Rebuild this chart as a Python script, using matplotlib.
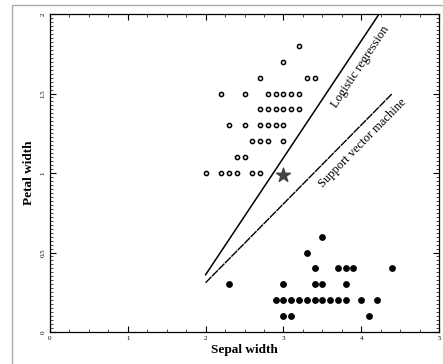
import matplotlib.pyplot as plt
import matplotlib.patches as patches
from matplotlib.ticker import MultipleLocator

# versicolor (open circles): sepal width, petal width
open_sw = [3.2, 3.0, 2.7, 3.3, 3.4,
           2.2, 2.5, 2.8, 2.9, 3.0, 3.1, 3.2,
           2.7, 2.8, 2.9, 3.0, 3.1, 3.2,
           2.3, 2.5, 2.7, 2.8, 2.9, 3.0,
           2.6, 2.7, 2.8, 3.0,
           2.4, 2.5,
           2.0, 2.2, 2.3, 2.4, 2.6, 2.7]
open_pw = [1.8, 1.7, 1.6, 1.6, 1.6,
           1.5, 1.5, 1.5, 1.5, 1.5, 1.5, 1.5,
           1.4, 1.4, 1.4, 1.4, 1.4, 1.4,
           1.3, 1.3, 1.3, 1.3, 1.3, 1.3,
           1.2, 1.2, 1.2, 1.2,
           1.1, 1.1,
           1.0, 1.0, 1.0, 1.0, 1.0, 1.0]

# setosa (filled dots)
fill_sw = [3.5, 3.3,
           3.4, 3.7, 3.8, 3.9, 4.4,
           2.3, 3.0, 3.4, 3.5, 3.8,
           2.9, 3.0, 3.1, 3.2, 3.3, 3.4, 3.5, 3.6, 3.7, 3.8, 4.0, 4.2,
           3.0, 3.1, 4.1]
fill_pw = [0.6, 0.5,
           0.4, 0.4, 0.4, 0.4, 0.4,
           0.3, 0.3, 0.3, 0.3, 0.3,
           0.2, 0.2, 0.2, 0.2, 0.2, 0.2, 0.2, 0.2, 0.2, 0.2, 0.2, 0.2,
           0.1, 0.1, 0.1]

star_pt = (3.0, 0.99)

# decision boundaries
logreg_x = [2.0, 4.23]
logreg_y = [0.36, 2.0]
svm_x = [2.0, 4.4]
svm_y = [0.31, 1.5]

xticks = [0, 1, 2, 3, 4, 5]
yticks = [0, 0.5, 1, 1.5, 2]
ytick_labels = ['0', '0.5', '1', '1.5', '2']

plt.rcParams['font.family'] = ['Liberation Serif', 'DejaVu Serif']

fig = plt.figure(figsize=(4.43, 3.64), dpi=100)
ax = fig.add_axes([50 / 443, 32 / 364, 389 / 443, 318 / 364])

ax.scatter(open_sw, open_pw, s=9, facecolors='white', edgecolors='black', linewidths=1.1, zorder=3)
ax.scatter(fill_sw, fill_pw, s=15, c='black', zorder=3)
ax.scatter([star_pt[0]], [star_pt[1]], marker='*', s=110, c='#444444', zorder=4)

ax.plot(logreg_x, logreg_y, color='black', lw=1.1)
ax.plot(svm_x, svm_y, color='black', lw=1.0, ls=(0, (6, 0.6)))

ax.text(3.99, 1.67, 'Logistic regression', rotation=56.5, ha='center', va='center',
        fontsize=9, rotation_mode='anchor')
ax.text(4.02, 1.19, 'Support vector machine', rotation=45.5, ha='center', va='center',
        fontsize=9, rotation_mode='anchor')

ax.set_xlim(0, 5)
ax.set_ylim(0, 2)
ax.set_xticks(xticks)
ax.set_xticklabels([str(t) for t in xticks])
ax.set_yticks(yticks)
ax.set_yticklabels(ytick_labels, rotation=90, va='center')
ax.xaxis.set_minor_locator(MultipleLocator(0.25))
ax.yaxis.set_minor_locator(MultipleLocator(0.025))
ax.tick_params(which='both', direction='in', top=True, right=True, labelsize=5, pad=3)
ax.tick_params(which='major', length=4, width=0.8)
ax.tick_params(which='minor', length=2, width=0.5)
for sp in ax.spines.values():
    sp.set_linewidth(0.9)

ax.set_xlabel('Sepal width', fontsize=9.5, fontweight='bold', labelpad=2)
ax.set_ylabel('Petal width', fontsize=9.5, fontweight='bold', labelpad=4)

# faint scan border around the page
fig.patches.append(patches.Rectangle((12 / 443, -0.01), 1.0, 1.0 - 5 / 364 + 0.01,
                                     transform=fig.transFigure, fill=False,
                                     edgecolor='#aaaaaa', lw=1.0))

fig.savefig('out.png', dpi=100)
